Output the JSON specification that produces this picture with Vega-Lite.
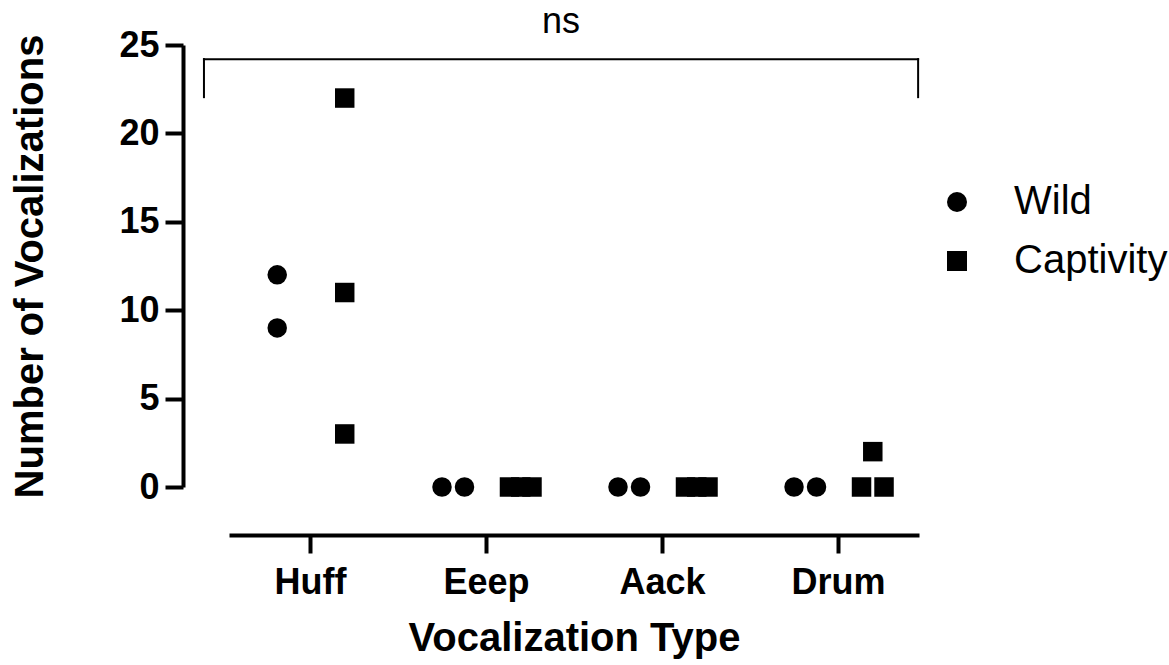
{
  "$schema": "https://vega.github.io/schema/vega-lite/v6.json",
  "autosize": {"type": "none"},
  "width": 690,
  "height": 442,
  "padding": {"left": 229, "top": 45, "right": 250, "bottom": 178},
  "background": "white",
  "config": {"view": {"stroke": null}, "font": "Liberation Sans"},
  "datasets": {
    "points": [
      {"type": "Huff", "group": "Wild", "count": 12, "slot": "W-M"},
      {"type": "Huff", "group": "Wild", "count": 9, "slot": "W-M"},
      {"type": "Huff", "group": "Captivity", "count": 22, "slot": "C-M"},
      {"type": "Huff", "group": "Captivity", "count": 11, "slot": "C-M"},
      {"type": "Huff", "group": "Captivity", "count": 3, "slot": "C-M"},
      {"type": "Eeep", "group": "Wild", "count": 0, "slot": "W-L"},
      {"type": "Eeep", "group": "Wild", "count": 0, "slot": "W-R"},
      {"type": "Eeep", "group": "Captivity", "count": 0, "slot": "C-L"},
      {"type": "Eeep", "group": "Captivity", "count": 0, "slot": "C-M"},
      {"type": "Eeep", "group": "Captivity", "count": 0, "slot": "C-R"},
      {"type": "Aack", "group": "Wild", "count": 0, "slot": "W-L"},
      {"type": "Aack", "group": "Wild", "count": 0, "slot": "W-R"},
      {"type": "Aack", "group": "Captivity", "count": 0, "slot": "C-L"},
      {"type": "Aack", "group": "Captivity", "count": 0, "slot": "C-M"},
      {"type": "Aack", "group": "Captivity", "count": 0, "slot": "C-R"},
      {"type": "Drum", "group": "Wild", "count": 0, "slot": "W-L"},
      {"type": "Drum", "group": "Wild", "count": 0, "slot": "W-R"},
      {"type": "Drum", "group": "Captivity", "count": 0, "slot": "C-L"},
      {"type": "Drum", "group": "Captivity", "count": 2, "slot": "C-M"},
      {"type": "Drum", "group": "Captivity", "count": 0, "slot": "C-R"}
    ],
    "bracket": [
      {"col": 0.41, "col2": 4.46, "y": 24.2, "y2": 24.2},
      {"col": 0.41, "col2": 0.41, "y": 24.2, "y2": 22.05},
      {"col": 4.46, "col2": 4.46, "y": 24.2, "y2": 22.05}
    ],
    "label": [
      {"col": 2.435, "y": 26.3, "text": "ns"}
    ]
  },
  "layer": [
    {
      "data": {"name": "points"},
      "mark": {"type": "point", "filled": true, "size": 380, "opacity": 1, "strokeWidth": 0},
      "encoding": {
        "x": {
          "field": "type", "type": "nominal",
          "sort": ["Huff", "Eeep", "Aack", "Drum"],
          "scale": {"type": "point", "padding": 0.46},
          "axis": {
            "offset": 48, "domainWidth": 4, "domainColor": "black",
            "tickSize": 18, "tickWidth": 4, "tickColor": "black",
            "labelFontSize": 36, "labelFontWeight": "bold", "labelColor": "black",
            "labelPadding": 12, "labelAngle": 0,
            "title": "Vocalization Type", "titleFontSize": 40, "titleFontWeight": "bold",
            "titleColor": "black", "titlePadding": 18
          }
        },
        "xOffset": {
          "field": "slot", "type": "nominal",
          "scale": {"type": "point", "domain": ["W-L", "W-M", "W-R", "g1", "g2", "g3", "C-L", "C-M", "C-R"], "range": [-44, 46], "padding": 0}
        },
        "y": {
          "field": "count", "type": "quantitative",
          "scale": {"domain": [0, 25], "nice": false},
          "axis": {
            "offset": 46, "values": [0, 5, 10, 15, 20, 25], "grid": false,
            "domainWidth": 4, "domainColor": "black",
            "tickSize": 18, "tickWidth": 4, "tickColor": "black",
            "labelFontSize": 36, "labelFontWeight": "bold", "labelColor": "black",
            "labelPadding": 6,
            "title": "Number of Vocalizations", "titleFontSize": 40, "titleFontWeight": "bold",
            "titleColor": "black", "titlePadding": 68
          }
        },
        "shape": {
          "field": "group", "type": "nominal",
          "scale": {"domain": ["Wild", "Captivity"], "range": ["circle", "square"]},
          "legend": {
            "title": null, "orient": "none", "legendX": 708, "legendY": 137,
            "padding": 0, "symbolSize": 400, "symbolFillColor": "black", "symbolStrokeWidth": 0,
            "symbolType": "circle",
            "labelFontSize": 40, "labelColor": "black", "labelOffset": 37,
            "rowPadding": 19
          }
        },
        "color": {"value": "black"}
      }
    },
    {
      "data": {"name": "bracket"},
      "mark": {"type": "rule", "color": "black", "strokeWidth": 2, "strokeCap": "square"},
      "encoding": {
        "x": {"field": "col", "type": "quantitative", "scale": {"domain": [0.552, 4.465], "nice": false, "zero": false}, "axis": null},
        "x2": {"field": "col2"},
        "y": {"field": "y", "type": "quantitative"},
        "y2": {"field": "y2"}
      }
    },
    {
      "data": {"name": "label"},
      "mark": {"type": "text", "fontSize": 36, "baseline": "middle", "align": "center", "color": "black"},
      "encoding": {
        "x": {"field": "col", "type": "quantitative", "scale": {"domain": [0.552, 4.465], "nice": false, "zero": false}, "axis": null},
        "y": {"field": "y", "type": "quantitative"},
        "text": {"field": "text"}
      }
    }
  ],
  "resolve": {"scale": {"x": "independent", "shape": "shared"}}
}
